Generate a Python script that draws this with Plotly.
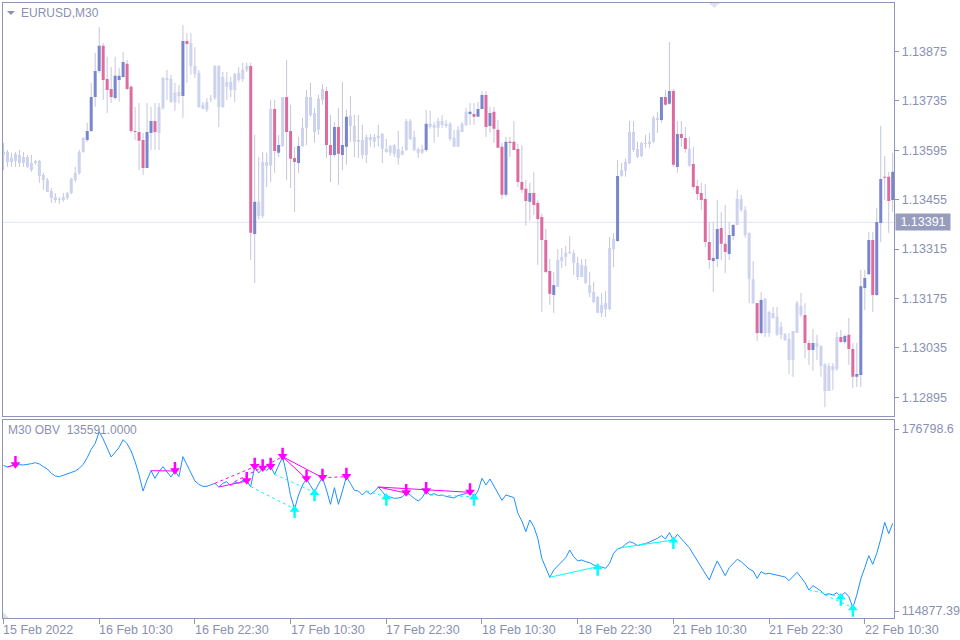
import plotly.graph_objects as go

# ---------------- data (EURUSD M30, 224 bars) ----------------
open_ = [
1.13590, 1.13590, 1.13562, 1.13565, 1.13582, 1.13559, 1.13576, 1.13559, 1.13559, 1.13565,
1.13525, 1.13511, 1.13480, 1.13463, 1.13457, 1.13454, 1.13460, 1.13474, 1.13511, 1.13531,
1.13590, 1.13624, 1.13650, 1.13746, 1.13820, 1.13891, 1.13797, 1.13769, 1.13743, 1.13794,
1.13803, 1.13840, 1.13775, 1.13650, 1.13647, 1.13624, 1.13545, 1.13644, 1.13678, 1.13644,
1.13715, 1.13800, 1.13797, 1.13732, 1.13749, 1.13749, 1.13905, 1.13899, 1.13834, 1.13814,
1.13724, 1.13710, 1.13738, 1.13743, 1.13834, 1.13718, 1.13789, 1.13766, 1.13766, 1.13794,
1.13797, 1.13823, 1.13834, 1.13358, 1.13409, 1.13409, 1.13562, 1.13551, 1.13712, 1.13588,
1.13607, 1.13746, 1.13650, 1.13573, 1.13559, 1.13607, 1.13659, 1.13746, 1.13701, 1.13653,
1.13738, 1.13763, 1.13610, 1.13582, 1.13661, 1.13582, 1.13605, 1.13664, 1.13664, 1.13619,
1.13624, 1.13582, 1.13633, 1.13619, 1.13630, 1.13641, 1.13599, 1.13588, 1.13610, 1.13599,
1.13582, 1.13596, 1.13678, 1.13633, 1.13599, 1.13588, 1.13596, 1.13670, 1.13659, 1.13659,
1.13678, 1.13664, 1.13670, 1.13630, 1.13605, 1.13647, 1.13667, 1.13698, 1.13698, 1.13690,
1.13712, 1.13752, 1.13664, 1.13704, 1.13653, 1.13605, 1.13469, 1.13619, 1.13619, 1.13599,
1.13505, 1.13486, 1.13449, 1.13474, 1.13446, 1.13406, 1.13341, 1.13253, 1.13185, 1.13208,
1.13281, 1.13293, 1.13304, 1.13304, 1.13276, 1.13236, 1.13267, 1.13213, 1.13193, 1.13179,
1.13134, 1.13162, 1.13145, 1.13315, 1.13338, 1.13522, 1.13537, 1.13559, 1.13647, 1.13599,
1.13579, 1.13616, 1.13613, 1.13619, 1.13687, 1.13681, 1.13746, 1.13727, 1.13763, 1.13548,
1.13641, 1.13630, 1.13599, 1.13556, 1.13494, 1.13474, 1.13457, 1.13335, 1.13281, 1.13287,
1.13375, 1.13330, 1.13301, 1.13352, 1.13383, 1.13457, 1.13426, 1.13361, 1.13230, 1.13162,
1.13077, 1.13174, 1.13077, 1.13134, 1.13123, 1.13072, 1.13074, 1.13060, 1.13001, 1.13077,
1.13154, 1.13128, 1.13049, 1.13029, 1.13049, 1.13040, 1.12989, 1.12913, 1.12984, 1.12975,
1.13066, 1.13052, 1.13072, 1.13032, 1.12953, 1.12958, 1.13205, 1.13244, 1.13341, 1.13185,
1.13389, 1.13520, 1.13520, 1.13454]

high = [
1.13616, 1.13596, 1.13588, 1.13590, 1.13596, 1.13590, 1.13582, 1.13582, 1.13568, 1.13568,
1.13531, 1.13517, 1.13488, 1.13474, 1.13463, 1.13474, 1.13477, 1.13517, 1.13548, 1.13596,
1.13633, 1.13673, 1.13786, 1.13871, 1.13944, 1.13899, 1.13860, 1.13831, 1.13860, 1.13828,
1.13874, 1.13851, 1.13780, 1.13718, 1.13729, 1.13644, 1.13729, 1.13718, 1.13729, 1.13729,
1.13803, 1.13823, 1.13809, 1.13786, 1.13780, 1.13950, 1.13927, 1.13927, 1.13888, 1.13823,
1.13732, 1.13743, 1.13752, 1.13837, 1.13837, 1.13817, 1.13817, 1.13803, 1.13814, 1.13831,
1.13843, 1.13843, 1.13843, 1.13639, 1.13576, 1.13590, 1.13588, 1.13738, 1.13738, 1.13639,
1.13746, 1.13851, 1.13724, 1.13605, 1.13633, 1.13687, 1.13766, 1.13786, 1.13715, 1.13752,
1.13783, 1.13775, 1.13695, 1.13675, 1.13715, 1.13789, 1.13710, 1.13749, 1.13695, 1.13695,
1.13667, 1.13639, 1.13641, 1.13641, 1.13667, 1.13644, 1.13627, 1.13610, 1.13613, 1.13650,
1.13605, 1.13684, 1.13684, 1.13650, 1.13602, 1.13610, 1.13710, 1.13707, 1.13675, 1.13687,
1.13695, 1.13681, 1.13675, 1.13653, 1.13664, 1.13675, 1.13715, 1.13729, 1.13729, 1.13732,
1.13763, 1.13763, 1.13718, 1.13718, 1.13681, 1.13616, 1.13633, 1.13633, 1.13678, 1.13613,
1.13610, 1.13511, 1.13503, 1.13534, 1.13454, 1.13415, 1.13372, 1.13287, 1.13250, 1.13315,
1.13318, 1.13324, 1.13352, 1.13312, 1.13293, 1.13287, 1.13287, 1.13250, 1.13222, 1.13182,
1.13191, 1.13196, 1.13349, 1.13361, 1.13568, 1.13559, 1.13571, 1.13678, 1.13678, 1.13619,
1.13619, 1.13639, 1.13644, 1.13693, 1.13704, 1.13746, 1.13766, 1.13902, 1.13769, 1.13678,
1.13678, 1.13661, 1.13633, 1.13605, 1.13511, 1.13503, 1.13500, 1.13392, 1.13392, 1.13454,
1.13420, 1.13440, 1.13392, 1.13386, 1.13483, 1.13469, 1.13437, 1.13361, 1.13281, 1.13162,
1.13193, 1.13176, 1.13140, 1.13151, 1.13151, 1.13108, 1.13077, 1.13077, 1.13083, 1.13168,
1.13191, 1.13162, 1.13057, 1.13089, 1.13072, 1.13043, 1.12992, 1.12992, 1.12992, 1.13080,
1.13086, 1.13074, 1.13120, 1.13049, 1.13049, 1.13256, 1.13256, 1.13364, 1.13364, 1.13432,
1.13664, 1.13579, 1.13534, 1.13588]

low = [
1.13539, 1.13548, 1.13548, 1.13548, 1.13548, 1.13548, 1.13545, 1.13534, 1.13554, 1.13503,
1.13483, 1.13477, 1.13446, 1.13446, 1.13443, 1.13449, 1.13454, 1.13471, 1.13505, 1.13525,
1.13588, 1.13619, 1.13647, 1.13718, 1.13814, 1.13738, 1.13701, 1.13729, 1.13738, 1.13732,
1.13800, 1.13766, 1.13644, 1.13624, 1.13539, 1.13525, 1.13545, 1.13596, 1.13596, 1.13596,
1.13710, 1.13738, 1.13729, 1.13707, 1.13729, 1.13687, 1.13786, 1.13809, 1.13800, 1.13715,
1.13712, 1.13704, 1.13732, 1.13738, 1.13661, 1.13715, 1.13738, 1.13746, 1.13732, 1.13789,
1.13789, 1.13817, 1.13284, 1.13219, 1.13398, 1.13403, 1.13491, 1.13505, 1.13531, 1.13576,
1.13605, 1.13511, 1.13488, 1.13420, 1.13531, 1.13605, 1.13610, 1.13690, 1.13616, 1.13639,
1.13724, 1.13573, 1.13505, 1.13576, 1.13497, 1.13539, 1.13554, 1.13619, 1.13576, 1.13573,
1.13571, 1.13559, 1.13605, 1.13602, 1.13605, 1.13559, 1.13588, 1.13579, 1.13576, 1.13554,
1.13582, 1.13593, 1.13624, 1.13593, 1.13573, 1.13585, 1.13590, 1.13656, 1.13616, 1.13633,
1.13659, 1.13659, 1.13622, 1.13605, 1.13605, 1.13647, 1.13664, 1.13667, 1.13667, 1.13690,
1.13712, 1.13633, 1.13644, 1.13616, 1.13602, 1.13457, 1.13463, 1.13576, 1.13596, 1.13491,
1.13474, 1.13381, 1.13395, 1.13412, 1.13270, 1.13137, 1.13247, 1.13157, 1.13134, 1.13208,
1.13261, 1.13267, 1.13301, 1.13242, 1.13227, 1.13236, 1.13216, 1.13179, 1.13162, 1.13134,
1.13123, 1.13123, 1.13142, 1.13264, 1.13335, 1.13520, 1.13520, 1.13556, 1.13590, 1.13573,
1.13576, 1.13602, 1.13602, 1.13616, 1.13644, 1.13673, 1.13721, 1.13724, 1.13548, 1.13531,
1.13605, 1.13588, 1.13548, 1.13483, 1.13454, 1.13426, 1.13321, 1.13259, 1.13193, 1.13264,
1.13284, 1.13247, 1.13284, 1.13341, 1.13383, 1.13420, 1.13347, 1.13162, 1.13159, 1.13055,
1.13074, 1.13066, 1.13066, 1.13117, 1.13069, 1.13060, 1.13055, 1.12961, 1.12953, 1.13077,
1.13123, 1.13006, 1.12987, 1.12970, 1.13001, 1.12953, 1.12867, 1.12913, 1.12916, 1.12970,
1.13049, 1.13046, 1.12987, 1.12921, 1.12924, 1.12924, 1.13142, 1.13242, 1.13137, 1.13182,
1.13335, 1.13454, 1.13361, 1.13420]

close = [
1.13582, 1.13562, 1.13573, 1.13585, 1.13559, 1.13576, 1.13548, 1.13539, 1.13565, 1.13522,
1.13511, 1.13477, 1.13460, 1.13454, 1.13454, 1.13463, 1.13474, 1.13514, 1.13531, 1.13590,
1.13630, 1.13650, 1.13746, 1.13820, 1.13891, 1.13794, 1.13766, 1.13746, 1.13806, 1.13806,
1.13845, 1.13769, 1.13650, 1.13647, 1.13622, 1.13545, 1.13647, 1.13678, 1.13647, 1.13718,
1.13800, 1.13794, 1.13732, 1.13758, 1.13760, 1.13905, 1.13896, 1.13834, 1.13811, 1.13718,
1.13712, 1.13732, 1.13741, 1.13834, 1.13718, 1.13803, 1.13775, 1.13789, 1.13811, 1.13814,
1.13823, 1.13834, 1.13361, 1.13449, 1.13449, 1.13562, 1.13551, 1.13712, 1.13593, 1.13610,
1.13746, 1.13647, 1.13571, 1.13562, 1.13607, 1.13659, 1.13746, 1.13695, 1.13647, 1.13741,
1.13769, 1.13610, 1.13582, 1.13661, 1.13585, 1.13610, 1.13690, 1.13693, 1.13619, 1.13624,
1.13582, 1.13633, 1.13624, 1.13633, 1.13636, 1.13599, 1.13590, 1.13607, 1.13585, 1.13573,
1.13593, 1.13678, 1.13627, 1.13596, 1.13588, 1.13599, 1.13670, 1.13661, 1.13667, 1.13678,
1.13667, 1.13670, 1.13627, 1.13605, 1.13653, 1.13670, 1.13704, 1.13704, 1.13690, 1.13712,
1.13752, 1.13661, 1.13701, 1.13656, 1.13602, 1.13469, 1.13619, 1.13616, 1.13596, 1.13505,
1.13483, 1.13451, 1.13474, 1.13440, 1.13400, 1.13341, 1.13250, 1.13188, 1.13213, 1.13284,
1.13293, 1.13304, 1.13307, 1.13276, 1.13236, 1.13270, 1.13219, 1.13191, 1.13165, 1.13134,
1.13157, 1.13145, 1.13318, 1.13344, 1.13522, 1.13539, 1.13562, 1.13647, 1.13596, 1.13576,
1.13616, 1.13613, 1.13619, 1.13687, 1.13681, 1.13746, 1.13724, 1.13763, 1.13554, 1.13641,
1.13630, 1.13599, 1.13551, 1.13491, 1.13471, 1.13454, 1.13335, 1.13284, 1.13290, 1.13372,
1.13330, 1.13307, 1.13355, 1.13383, 1.13457, 1.13426, 1.13355, 1.13230, 1.13162, 1.13077,
1.13171, 1.13077, 1.13137, 1.13120, 1.13072, 1.13094, 1.13057, 1.13001, 1.13083, 1.13162,
1.13128, 1.13049, 1.13029, 1.13049, 1.13038, 1.12984, 1.12913, 1.12984, 1.12972, 1.13066,
1.13052, 1.13069, 1.13032, 1.12953, 1.12961, 1.13210, 1.13233, 1.13341, 1.13185, 1.13392,
1.13514, 1.13517, 1.13451, 1.13534]

# bars painted in colour by the chart's bar-colouring indicator
highlight_bars = (list(range(21, 39)) + [45, 46, 62, 63, 68, 69, 71, 72, 73, 74]
                  + list(range(81, 87)) + [106] + list(range(117, 139)) + [154]
                  + list(range(165, 172)) + list(range(173, 184)) + [189, 190, 201, 202, 203]
                  + list(range(210, 224)))

obv = [
164438, 163871, 164324, 164551, 164664, 164551, 164664, 165005, 165345, 164891,
163984, 163190, 161716, 160809, 160582, 161036, 161489, 161829, 162510, 163417,
164778, 167046, 169881, 171922, 175891, 173396, 170221, 167273, 168860, 170561,
173169, 171809, 169314, 165685, 161149, 155706, 159448, 162623, 160015, 162283,
163984, 162283, 160469, 162510, 160582, 167386, 164551, 162056, 159108, 157974,
157293, 157293, 157747, 158314, 157067, 158314, 158881, 157520, 158881, 158314,
159335, 159108, 157180, 163984, 161829, 163417, 162737, 163984, 161376, 164324,
167386, 161376, 154118, 149582, 154345, 157747, 159788, 157520, 155252, 158087,
160242, 156046, 151170, 156840, 151170, 155706, 160582, 158314, 155933, 155706,
154345, 155706, 154572, 155479, 157067, 155479, 153778, 153665, 153211, 153324,
153665, 155025, 154345, 153211, 152304, 153438, 155706, 154345, 154799, 154118,
154345, 153891, 153665, 153324, 154118, 154572, 155025, 155252, 153778, 155706,
160015, 157747, 159788, 157520, 154912, 152531, 154345, 154005, 153438, 148108,
145500, 141871, 145840, 143572, 139603, 132799, 129397, 126335, 128830, 130304,
131665, 133026, 135634, 133366, 131892, 132232, 131665, 131325, 130531, 129964,
129851, 129397, 131098, 134500, 135974, 136428, 137562, 138469, 138015, 137108,
137562, 137789, 138356, 138923, 139603, 140510, 139376, 141531, 139036, 140964,
139376, 137902, 136428, 134160, 132005, 129624, 127809, 125428, 128830, 131892,
129397, 126902, 129624, 131098, 132459, 131665, 130531, 129170, 128490, 125995,
128263, 127469, 127696, 127356, 126902, 126675, 126449, 125201, 126562, 128036,
126335, 124521, 122026, 123500, 122593, 121686, 120325, 120779, 120325, 121119,
119758, 121232, 119758, 116016, 120325, 125768, 129624, 133706, 130758, 134500,
139376, 145046, 141191, 144706]

# divergence signals on OBV (bar indices)
bear_arrows = [3, 43, 61, 63, 65, 67, 70, 76, 80, 86, 101, 106, 117]
bull_arrows = [73, 78, 96, 118, 149, 168, 210, 213]
bear_lines_solid = [(1, 3), (37, 43), (54, 61), (70, 76), (70, 80), (94, 101), (94, 117)]
bear_lines_dash = [(53, 63), (58, 70), (80, 86)]
bull_lines_solid = [(137, 149), (155, 168)]
bull_lines_dash = [(62, 73), (68, 78), (91, 96), (107, 118), (202, 210), (206, 213)]

price_ticks = [1.12895, 1.13035, 1.13175, 1.13315, 1.13455, 1.13595, 1.13735, 1.13875]
obv_ticks = [114877.39, 176798.6]
obv_tick_text = ["114877.39", "176798.6"]
time_tick_bars = [0, 24, 48, 72, 96, 120, 144, 168, 192, 216]
time_tick_labels = ["15 Feb 2022", "16 Feb 10:30", "16 Feb 22:30", "17 Feb 10:30", "17 Feb 22:30",
                    "18 Feb 10:30", "18 Feb 22:30", "21 Feb 10:30", "21 Feb 22:30", "22 Feb 10:30"]
price_line = 1.13391
obv_last = "135591.0000"
symbol = "EURUSD,M30"

# ---------------- styling ----------------
n = len(close)
assert len(open_) == n and len(high) == n and len(low) == n and len(obv) == n

W, H = 960, 640
FRAME = "#8e95b8"
TEXT = "#8a90b2"
WICK = "#c4c7dc"
LIGHT = "#cdd3ef"
UP = "#7986cb"
DOWN = "#dd6b9f"
OBV_C = "#1e90ff"
MAG = "#ff00ff"
CYA = "#00ffff"
FONT = "Liberation Sans"

px = lambda v: v / W
py = lambda v: 1 - v / H

XR = [-0.125, n - 0.5 - 0.125]
PY0, PY1 = 3, 416          # price pane pixel rows
OY0, OY1 = 420, 618        # obv pane pixel rows
PX0, PX1 = 3, 897

# price scale: 1.13875 at y=51.5, 0.0014 per 49.4 px
ppp = 0.0014 / 49.4
p_top = 1.13875 + (51.5 - PY0) * ppp
p_bot = 1.13875 - (PY1 - 51.5) * ppp
# obv scale: 176798.6 at y=429, 114877.39 at y=611
opp = (176798.6 - 114877.39) / (611 - 429)
o_top = 176798.6 + (429 - OY0) * opp
o_bot = 176798.6 - (OY1 - 429) * opp

fig = go.Figure()

# wicks
wx, wy = [], []
for i in range(n):
    wx += [i, i, None]
    wy += [low[i], high[i], None]
fig.add_trace(go.Scatter(x=wx, y=wy, mode="lines", line=dict(color=WICK, width=1),
                         hoverinfo="skip", showlegend=False, xaxis="x", yaxis="y"))

# bodies
hs = set(highlight_bars)
groups = {"light": ([], [], LIGHT), "up": ([], [], UP), "down": ([], [], DOWN)}
eps = ppp * 1.0
for i in range(n):
    o, c = open_[i], close[i]
    lo_, hi_ = min(o, c), max(o, c)
    if hi_ - lo_ < eps:
        mid = (hi_ + lo_) / 2
        lo_, hi_ = mid - eps / 2, mid + eps / 2
    key = "light" if i not in hs else ("up" if c >= o else "down")
    groups[key][0].extend([i, i, None])
    groups[key][1].extend([lo_, hi_, None])
for key in ["light", "up", "down"]:
    gx, gy, col = groups[key]
    fig.add_trace(go.Scatter(x=gx, y=gy, mode="lines", line=dict(color=col, width=3),
                             hoverinfo="skip", showlegend=False, xaxis="x", yaxis="y"))

# OBV line
fig.add_trace(go.Scatter(x=list(range(n)), y=obv, mode="lines", line=dict(color=OBV_C, width=1),
                         showlegend=False, xaxis="x2", yaxis="y2"))

# divergence lines
def add_seg(pairs, color, dash):
    for a, b in pairs:
        fig.add_trace(go.Scatter(x=[a, b], y=[obv[a], obv[b]], mode="lines",
                                 line=dict(color=color, width=1, dash=dash),
                                 showlegend=False, hoverinfo="skip", xaxis="x2", yaxis="y2"))
add_seg(bear_lines_solid, MAG, "solid")
add_seg(bear_lines_dash, MAG, "3px,3px")
add_seg(bull_lines_solid, CYA, "solid")
add_seg(bull_lines_dash, CYA, "3px,3px")

# signal arrows: shaft + head (offsets expressed in screen pixels)
def add_arrows(bars, color, down):
    sgn = 1 if down else -1          # down arrow sits above the point
    sx, sy, hx, hy = [], [], [], []
    for i in bars:
        v = obv[i]
        sx += [i, i, None]
        sy += [v + sgn * 2 * opp, v + sgn * 9 * opp, None]
        hx.append(i)
        hy.append(v + sgn * 0.5 * opp)
    fig.add_trace(go.Scatter(x=sx, y=sy, mode="lines", line=dict(color=color, width=2.5),
                             showlegend=False, hoverinfo="skip", xaxis="x2", yaxis="y2"))
    fig.add_trace(go.Scatter(x=hx, y=hy, mode="markers",
                             marker=dict(symbol="triangle-down" if down else "triangle-up",
                                         size=8.5, color=color, line=dict(width=0)),
                             showlegend=False, hoverinfo="skip", xaxis="x2", yaxis="y2"))
add_arrows(bear_arrows, MAG, True)
add_arrows(bull_arrows, CYA, False)

annotations = []
# time labels (left-aligned at tick)
for b, lab in zip(time_tick_bars, time_tick_labels):
    annotations.append(dict(x=b, y=py(630), xref="x2", yref="paper", text=lab, showarrow=False,
                            xanchor="left", yanchor="middle", xshift=-2,
                            font=dict(family=FONT, size=12.5, color=TEXT)))

annotations.append(dict(x=px(19), y=py(13), xref="paper", yref="paper", text=symbol, showarrow=False,
                        xanchor="left", yanchor="middle", font=dict(family=FONT, size=12, color=TEXT)))
annotations.append(dict(x=px(6), y=py(430), xref="paper", yref="paper",
                        text="M30 OBV&nbsp;&nbsp;" + obv_last, showarrow=False,
                        xanchor="left", yanchor="middle", font=dict(family=FONT, size=12, color=TEXT)))
annotations.append(dict(x=px(898), y=price_line, xref="paper", yref="y", text=f"{price_line:.5f}",
                        showarrow=False, xanchor="left", yanchor="middle", bgcolor="#979dbd",
                        width=52, height=14, borderpad=1,
                        font=dict(family=FONT, size=12.5, color="white")))

shapes = [
    dict(type="line", xref="paper", yref="y", x0=px(PX0), x1=px(PX1), y0=price_line, y1=price_line,
         line=dict(color="#e1e3f2", width=1), layer="below"),
    # symbol menu triangle
    dict(type="path", xref="paper", yref="paper",
         path=f"M {px(7)},{py(11)} L {px(15)},{py(11)} L {px(11)},{py(15)} Z",
         fillcolor="#8a90b2", line=dict(width=0)),
    # chart shift marker
    dict(type="path", xref="paper", yref="paper",
         path=f"M {px(711)},{py(3)} L {px(722)},{py(3)} L {px(716.5)},{py(8)} Z",
         fillcolor="#dfe2f1", line=dict(width=0)),
    # sub-window corner marker
    dict(type="path", xref="paper", yref="paper",
         path=f"M {px(3)},{py(612)} L {px(3)},{py(618)} L {px(9)},{py(618)} Z",
         fillcolor="#dcdee9", line=dict(width=0)),
]

axis_common = dict(showgrid=False, zeroline=False, showline=True, mirror=True,
                   linecolor=FRAME, linewidth=1)
fig.update_layout(
    width=W, height=H, autosize=False,
    margin=dict(l=0, r=0, t=0, b=0),
    paper_bgcolor="white", plot_bgcolor="white",
    showlegend=False, hovermode=False,
    xaxis=dict(domain=[px(PX0), px(PX1)], range=XR, anchor="y", showticklabels=False,
               ticks="", fixedrange=True, **axis_common),
    yaxis=dict(domain=[py(PY1), py(PY0)], range=[p_bot, p_top], anchor="x", side="right",
               tickvals=price_ticks, ticktext=[f"{v:.5f}" for v in price_ticks],
               ticks="outside", ticklen=4, tickcolor=FRAME,
               tickfont=dict(family=FONT, size=12.5, color=TEXT), **axis_common),
    xaxis2=dict(domain=[px(PX0), px(PX1)], range=XR, anchor="y2", showticklabels=False,
                tickvals=time_tick_bars, ticks="outside", ticklen=5, tickcolor=FRAME, **axis_common),
    yaxis2=dict(domain=[py(OY1), py(OY0)], range=[o_bot, o_top], anchor="x2", side="right",
                tickvals=obv_ticks, ticktext=obv_tick_text, ticks="outside", ticklen=4, tickcolor=FRAME,
                tickfont=dict(family=FONT, size=12.5, color=TEXT), **axis_common),
    annotations=annotations,
    shapes=shapes,
)

fig.write_html("out.html", config={"displayModeBar": False},
               post_script="document.body.style.margin='0';")
